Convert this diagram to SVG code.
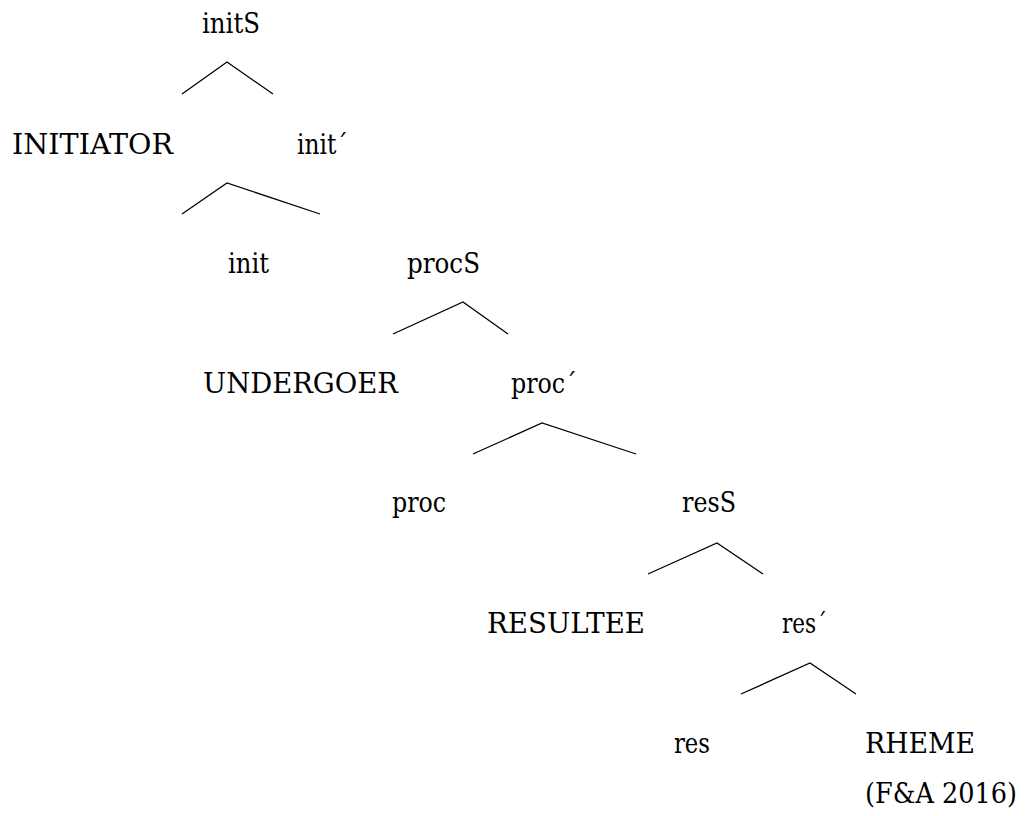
<svg xmlns="http://www.w3.org/2000/svg" width="1025" height="816" viewBox="0 0 1025 816">
  <defs>
    <style>
      .edge { fill: none; stroke: #000; stroke-width: 1.3; }
      .lbl { font-family: "DejaVu Serif", "Liberation Serif", serif; font-size: 28px; fill: #000; }
    </style>
  </defs>
  <rect width="1025" height="816" fill="#fff"/>

  <!-- branches of the tree -->
  <g id="connectors">
    <polyline class="edge" points="182,94 227,62 273,94"/>
    <polyline class="edge" points="182,214 227,183 320,214"/>
    <polyline class="edge" points="393,334 463,302 508,334"/>
    <polyline class="edge" points="473,454 542,423 636,454"/>
    <polyline class="edge" points="648,574 717,543 763,574"/>
    <polyline class="edge" points="741,694 810,663 856,694"/>
  </g>

  <!-- node labels; widths pinned so the serif face keeps the tree spacing -->
  <g>
    <g id="initS"><text class="lbl" x="202" y="33" textLength="58" lengthAdjust="spacingAndGlyphs">initS</text></g>
    <g id="initiator"><text class="lbl" x="12" y="154" textLength="161" lengthAdjust="spacingAndGlyphs">INITIATOR</text></g>
    <g id="init-bar"><text class="lbl" x="297" y="154" textLength="51" lengthAdjust="spacingAndGlyphs">init´</text></g>
    <g id="init"><text class="lbl" x="228" y="273" textLength="41" lengthAdjust="spacingAndGlyphs">init</text></g>
    <g id="procS"><text class="lbl" x="407" y="273" textLength="73" lengthAdjust="spacingAndGlyphs">procS</text></g>
    <g id="undergoer"><text class="lbl" x="203" y="393" textLength="195" lengthAdjust="spacingAndGlyphs">UNDERGOER</text></g>
    <g id="proc-bar"><text class="lbl" x="511" y="393" textLength="66" lengthAdjust="spacingAndGlyphs">proc´</text></g>
    <g id="proc"><text class="lbl" x="392" y="512" textLength="54" lengthAdjust="spacingAndGlyphs">proc</text></g>
    <g id="resS"><text class="lbl" x="682" y="512" textLength="54" lengthAdjust="spacingAndGlyphs">resS</text></g>
    <g id="resultee"><text class="lbl" x="487" y="633" textLength="158" lengthAdjust="spacingAndGlyphs">RESULTEE</text></g>
    <g id="res-bar"><text class="lbl" x="782" y="633" textLength="45" lengthAdjust="spacingAndGlyphs">res´</text></g>
    <g id="res"><text class="lbl" x="674" y="753" textLength="36" lengthAdjust="spacingAndGlyphs">res</text></g>
    <g id="rheme"><text class="lbl" x="865" y="753" textLength="110" lengthAdjust="spacingAndGlyphs">RHEME</text></g>
    <g id="citation"><text class="lbl" x="865" y="803" textLength="152" lengthAdjust="spacingAndGlyphs">(F&amp;A 2016)</text></g>
  </g>
</svg>
